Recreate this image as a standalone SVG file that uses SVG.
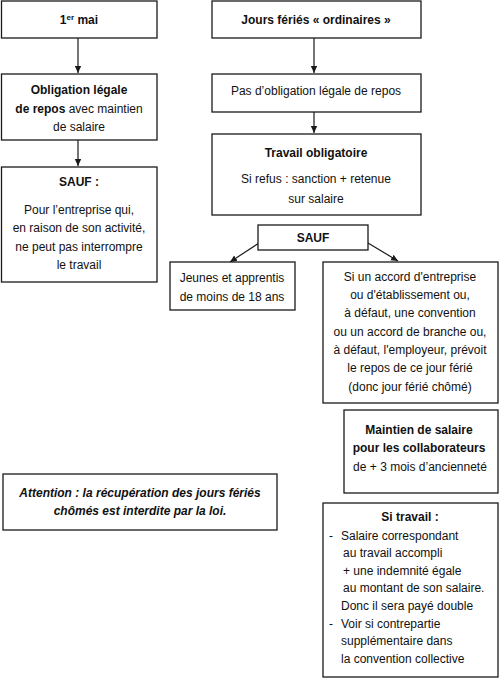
<svg xmlns="http://www.w3.org/2000/svg" width="500" height="687" viewBox="0 0 500 687">
<defs>
<marker id="ah" markerWidth="8" markerHeight="8" refX="7" refY="4" orient="auto" markerUnits="userSpaceOnUse">
<path d="M0,0.8 L7,4 L0,7.2 Z" fill="#1a1a1a"/>
</marker>
<style>
rect{fill:#fff;stroke:#1a1a1a;stroke-width:1.3}
text{font-family:"Liberation Sans",Arial,sans-serif;font-size:12px;fill:#111;text-anchor:middle}
.b{font-weight:bold}
.l{text-anchor:start}
.bi{font-weight:bold;font-style:italic}
line{stroke:#1a1a1a;stroke-width:1.2;marker-end:url(#ah)}
</style>
</defs>
<rect width="500" height="687" style="fill:#fff;stroke:none"/>
<g id="connectors">
<line x1="78" y1="38" x2="78" y2="73"/>
<line x1="78" y1="140" x2="78" y2="166"/>
<line x1="314" y1="38" x2="314" y2="73"/>
<line x1="314" y1="112" x2="314" y2="133"/>
<line x1="259" y1="243" x2="230" y2="262"/>
<line x1="368" y1="243" x2="398" y2="261"/>
</g>
<g id="mai">
<rect x="1.5" y="1" width="155.5" height="37"/>
<text x="79" y="24" class="b">1<tspan font-size="8" dy="-4">er</tspan><tspan dy="4"> mai</tspan></text>
</g>
<g id="jours">
<rect x="212" y="1" width="209" height="37"/>
<text x="316" y="24" class="b">Jours fériés « ordinaires »</text>
</g>
<g id="obligation">
<rect x="1.5" y="74" width="155.5" height="66"/>
<text x="79" y="94" class="b">Obligation légale</text>
<text x="79" y="113"><tspan class="b">de repos</tspan> avec maintien</text>
<text x="79" y="131">de salaire</text>
</g>
<g id="pas-obligation">
<rect x="212" y="74" width="209" height="38"/>
<text x="316" y="95">Pas d’obligation légale de repos</text>
</g>
<g id="sauf-1mai">
<rect x="1.5" y="167" width="155.5" height="115"/>
<text x="79" y="186" class="b">SAUF :</text>
<text x="79" y="214">Pour l’entreprise qui,</text>
<text x="79" y="232">en raison de son activité,</text>
<text x="79" y="251">ne peut pas interrompre</text>
<text x="79" y="269">le travail</text>
</g>
<g id="travail">
<rect x="212" y="134" width="209" height="81"/>
<text x="316" y="157" class="b">Travail obligatoire</text>
<text x="316" y="183">Si refus : sanction + retenue</text>
<text x="316" y="203">sur salaire</text>
</g>
<g id="sauf">
<rect x="258" y="225" width="110" height="25"/>
<text x="313" y="242" class="b">SAUF</text>
</g>
<g id="jeunes">
<rect x="170" y="262" width="125" height="48"/>
<text x="232" y="282">Jeunes et apprentis</text>
<text x="232" y="301">de moins de 18 ans</text>
</g>
<g id="accord">
<rect x="323" y="262" width="175" height="141"/>
<text x="410" y="281">Si un accord d'entreprise</text>
<text x="410" y="299">ou d'établissement ou,</text>
<text x="410" y="317">à défaut, une convention</text>
<text x="410" y="336">ou un accord de branche ou,</text>
<text x="410" y="354">à défaut, l'employeur, prévoit</text>
<text x="410" y="372">le repos de ce jour férié</text>
<text x="410" y="391">(donc jour férié chômé)</text>
</g>
<g id="maintien">
<rect x="344" y="410" width="154" height="83"/>
<text x="419" y="434" class="b">Maintien de salaire</text>
<text x="419" y="452" class="b">pour les collaborateurs</text>
<text x="420" y="471">de + 3 mois d’ancienneté</text>
</g>
<g id="attention">
<rect x="3" y="474" width="274" height="56"/>
<text x="140" y="497" class="bi">Attention : la récupération des jours fériés</text>
<text x="140" y="515" class="bi">chômés est interdite par la loi.</text>
</g>
<g id="si-travail">
<rect x="323" y="503" width="175" height="174"/>
<text x="410" y="521" class="b">Si travail :</text>
<text x="329" y="540" class="l">-</text>
<text x="341" y="540" class="l">Salaire correspondant</text>
<text x="343" y="557" class="l">au travail accompli</text>
<text x="343" y="575" class="l">+ une indemnité égale</text>
<text x="343" y="592" class="l">au montant de son salaire.</text>
<text x="341" y="610" class="l">Donc il sera payé double</text>
<text x="329" y="628" class="l">-</text>
<text x="341" y="628" class="l">Voir si contrepartie</text>
<text x="341" y="645" class="l">supplémentaire dans</text>
<text x="341" y="663" class="l">la convention collective</text>
</g>
</svg>
